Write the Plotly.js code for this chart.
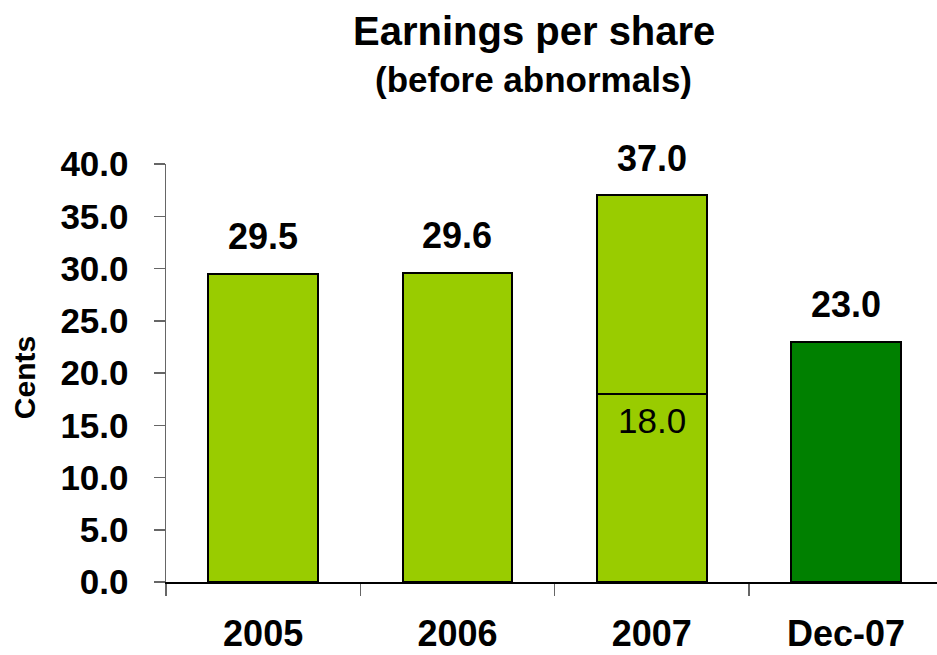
<!DOCTYPE html>
<html>
<head>
<meta charset="utf-8">
<script src="https://cdn.plot.ly/plotly-3.0.1.min.js"></script>
<style>html,body{margin:0;padding:0;background:#fff;}#chart{width:937px;height:655px;}</style>
</head>
<body>
<div id="chart"></div>
<script>
const categories = ['2005', '2006', '2007', 'Dec-07'];
const baseValues = [29.5, 29.6, 18.0, 23.0];
const topValues = [null, null, 19.0, null];
const totalLabels = ['29.5', '29.6', '37.0', '23.0'];
const innerLabel = {index: 2, value: 18.0, text: '18.0'};
const tickVals = [0, 5, 10, 15, 20, 25, 30, 35, 40];

const LIGHT = '#99CC00';
const DARK = '#008000';
const baseColors = categories.map(c => c === 'Dec-07' ? DARK : LIGHT);

const FONT = 'Liberation Sans, Arial, sans-serif';

const traces = [
  {
    type: 'bar', x: categories, y: baseValues,
    marker: {color: baseColors, line: {color: '#000', width: 2}},
    width: 0.565, hoverinfo: 'skip'
  },
  {
    type: 'bar', x: categories, y: topValues,
    marker: {color: LIGHT, line: {color: '#000', width: 2}},
    width: 0.565, hoverinfo: 'skip'
  }
];

const totals = categories.map((c, i) => (baseValues[i] || 0) + (topValues[i] || 0));

const annotations = categories.map((c, i) => ({
  x: i, y: totals[i], xref: 'x', yref: 'y',
  text: '<b>' + totalLabels[i] + '</b>', showarrow: false,
  yanchor: 'middle', yshift: 37,
  font: {family: FONT, size: 36, color: '#000'}
}));
annotations.push({
  x: innerLabel.index, y: innerLabel.value, xref: 'x', yref: 'y',
  text: innerLabel.text, showarrow: false, yanchor: 'middle', yshift: -27,
  font: {family: FONT, size: 35, color: '#000'}
});
annotations.push({
  x: 0.4767, y: 1, xref: 'paper', yref: 'paper',
  text: '<b>Earnings per share</b>', showarrow: false,
  xanchor: 'center', yanchor: 'middle', yshift: 133,
  font: {family: FONT, size: 40, color: '#000'}
});
annotations.push({
  x: 0.4767, y: 1, xref: 'paper', yref: 'paper',
  text: '<b>(before abnormals)</b>', showarrow: false,
  xanchor: 'center', yanchor: 'middle', yshift: 85,
  font: {family: FONT, size: 35, color: '#000'}
});
annotations.push({
  x: -0.184, y: 0.488, xref: 'paper', yref: 'paper',
  text: '<b>Cents</b>', showarrow: false, textangle: -90,
  xanchor: 'center', yanchor: 'middle',
  font: {family: FONT, size: 30, color: '#000'}
});

const layout = {
  width: 937, height: 655,
  margin: {l: 166, r: 0, t: 164, b: 73},
  paper_bgcolor: '#fff', plot_bgcolor: '#fff',
  showlegend: false,
  barmode: 'stack',
  font: {family: FONT, color: '#000'},
  xaxis: {
    type: 'category', range: [-0.5, 3.468],
    showgrid: false, zeroline: false,
    showline: true, linecolor: '#000', linewidth: 2,
    ticks: 'outside', tickson: 'boundaries', ticklen: 12, tickcolor: '#666', tickwidth: 1.5,
    ticklabelstandoff: 19,
    tickfont: {family: FONT, size: 36, color: '#000', weight: 'bold'},
    fixedrange: true
  },
  yaxis: {
    range: [0, 40], tickvals: tickVals, tickformat: '.1f',
    showgrid: false, zeroline: false,
    showline: true, linecolor: '#666', linewidth: 1.5,
    ticks: 'outside', ticklen: 11, tickcolor: '#666', tickwidth: 1.5,
    ticklabelstandoff: 18,
    tickfont: {family: FONT, size: 35, color: '#000', weight: 'bold'},
    fixedrange: true
  },
  annotations: annotations
};

Plotly.newPlot('chart', traces, layout, {displayModeBar: false, staticPlot: true});
</script>
</body>
</html>
